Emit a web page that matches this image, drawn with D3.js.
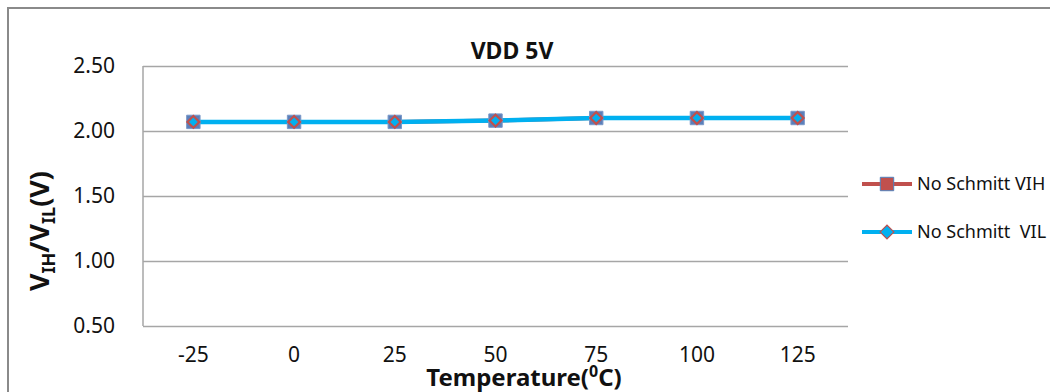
<!DOCTYPE html>
<html>

<head>
  <meta charset="utf-8">
  <title>VDD 5V</title>
  <script src="https://cdn.jsdelivr.net/npm/d3@7/dist/d3.min.js"></script>
  <style>
    body { margin: 0; background: #fff; }
    text { font-family: "Noto Sans", "Open Sans", sans-serif; }
  </style>
</head>

<body>
  <script type="text/javascript">
    //Data
    var temps = ["-25", "0", "25", "50", "75", "100", "125"];
    var vih = [2.07, 2.07, 2.07, 2.08, 2.10, 2.10, 2.10];
    var vil = [2.07, 2.07, 2.07, 2.08, 2.10, 2.10, 2.10];
    var yTicks = [0.5, 1.0, 1.5, 2.0, 2.5];
    var seriesNames = ["No Schmitt VIH", "No Schmitt  VIL"];

    //Width and height
    var w = 1050;
    var h = 392;
    var plot = { left: 143, right: 848, top: 66, bottom: 326 };

    var svg = d3.select("body")
      .append("svg")
      .attr("width", w)
      .attr("height", h);

    //Outer chart border (runs off right and bottom)
    svg.append("rect")
      .attr("x", 8).attr("y", 8)
      .attr("width", 1200).attr("height", 600)
      .attr("fill", "#fff")
      .attr("stroke", "#8a8a8a")
      .attr("stroke-width", 2);

    var x = d3.scaleBand()
      .domain(temps)
      .range([plot.left, plot.right]);

    var y = d3.scaleLinear()
      .domain([0.5, 2.5])
      .range([plot.bottom, plot.top]);

    //Gridlines + y labels
    var yAxis = svg.append("g")
      .attr("transform", "translate(" + plot.left + ",0)")
      .call(d3.axisLeft(y)
        .tickValues(yTicks)
        .tickFormat(d3.format(".2f"))
        .tickSize(-(plot.right - plot.left))
        .tickPadding(28));
    yAxis.select(".domain").remove();
    yAxis.selectAll("line")
      .attr("stroke", "#a6a6a6")
      .attr("stroke-width", 1.5);
    yAxis.selectAll("text")
      .attr("font-size", 21)
      .attr("fill", "#111");

    //Left axis line
    svg.append("line")
      .attr("x1", plot.left).attr("x2", plot.left)
      .attr("y1", plot.top).attr("y2", plot.bottom)
      .attr("stroke", "#a6a6a6")
      .attr("stroke-width", 1.5);

    //x labels
    var xAxis = svg.append("g")
      .attr("transform", "translate(0," + plot.bottom + ")")
      .call(d3.axisBottom(x).tickSize(0).tickPadding(21));
    xAxis.select(".domain").remove();
    xAxis.selectAll("text")
      .attr("font-size", 21)
      .attr("fill", "#111");

    var cx = function(d, i) { return x(temps[i]) + x.bandwidth() / 2; };

    var line = d3.line()
      .x(cx)
      .y(function(d) { return y(d); });

    //Lines
    svg.append("path")
      .datum(vih)
      .attr("d", line)
      .attr("fill", "none")
      .attr("stroke", "#c0504d")
      .attr("stroke-width", 4);

    svg.append("path")
      .datum(vil)
      .attr("d", line)
      .attr("fill", "none")
      .attr("stroke", "#00b0f0")
      .attr("stroke-width", 4.5);

    //Markers (diamond = square turned 45deg)
    var square = d3.symbol().type(d3.symbolSquare).size(180);
    var diamond = d3.symbol().type(d3.symbolSquare).size(70);

    svg.selectAll(".vih-pt")
      .data(vih)
      .enter()
      .append("path")
      .attr("class", "vih-pt")
      .attr("transform", function(d, i) { return "translate(" + cx(d, i) + "," + y(d) + ")"; })
      .attr("d", square)
      .attr("fill", "#5a7fba")
      .attr("stroke", "#7a98c8")
      .attr("stroke-width", 1);

    svg.selectAll(".vil-pt")
      .data(vil)
      .enter()
      .append("path")
      .attr("class", "vil-pt")
      .attr("transform", function(d, i) { return "translate(" + cx(d, i) + "," + y(d) + ") rotate(45)"; })
      .attr("d", diamond)
      .attr("fill", "#00b0f0")
      .attr("stroke", "#c0504d")
      .attr("stroke-width", 2.2);

    //Title
    svg.append("text")
      .attr("x", 512).attr("y", 59)
      .attr("text-anchor", "middle")
      .attr("font-size", 23)
      .attr("font-weight", "bold")
      .attr("fill", "#111")
      .text("VDD 5V");

    //x axis title
    var xt = svg.append("text")
      .attr("x", 524).attr("y", 386)
      .attr("text-anchor", "middle")
      .attr("font-size", 24)
      .attr("font-weight", "bold")
      .attr("fill", "#111");
    xt.append("tspan").text("Temperature(");
    xt.append("tspan").attr("dy", -9).attr("font-size", 16).text("0");
    xt.append("tspan").attr("dy", 9).text("C)");

    //y axis title
    var yt = svg.append("text")
      .attr("transform", "translate(49,231) rotate(-90)")
      .attr("text-anchor", "middle")
      .attr("font-size", 27)
      .attr("font-weight", "bold")
      .attr("fill", "#111");
    yt.append("tspan").text("V");
    yt.append("tspan").attr("dy", 6).attr("font-size", 18).text("IH");
    yt.append("tspan").attr("dy", -6).text("/V");
    yt.append("tspan").attr("dy", 6).attr("font-size", 18).text("IL");
    yt.append("tspan").attr("dy", -6).text("(V)");

    //Legend
    var legend = svg.append("g");
    var legY = [184, 232];

    legend.append("line")
      .attr("x1", 862).attr("x2", 912)
      .attr("y1", legY[0]).attr("y2", legY[0])
      .attr("stroke", "#c0504d").attr("stroke-width", 4);
    legend.append("path")
      .attr("transform", "translate(887," + legY[0] + ")")
      .attr("d", square)
      .attr("fill", "#c0504d")
      .attr("stroke", "#4f81bd")
      .attr("stroke-width", 1);

    legend.append("line")
      .attr("x1", 862).attr("x2", 912)
      .attr("y1", legY[1]).attr("y2", legY[1])
      .attr("stroke", "#00b0f0").attr("stroke-width", 4);
    legend.append("path")
      .attr("transform", "translate(887," + legY[1] + ") rotate(45)")
      .attr("d", d3.symbol().type(d3.symbolSquare).size(95))
      .attr("fill", "#00b0f0")
      .attr("stroke", "#c0504d")
      .attr("stroke-width", 1.2);

    legend.selectAll(".leg-txt")
      .data(seriesNames)
      .enter()
      .append("text")
      .attr("class", "leg-txt")
      .attr("x", 917)
      .attr("y", function(d, i) { return legY[i] + 6; })
      .attr("font-size", 18)
      .attr("fill", "#111")
      .attr("xml:space", "preserve")
      .style("white-space", "pre")
      .text(function(d) { return d; });
  </script>

</body>

</html>
